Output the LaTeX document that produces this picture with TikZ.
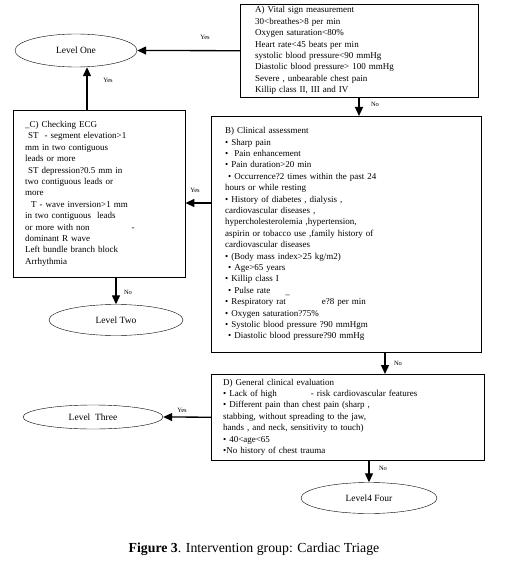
\documentclass[tikz,border=0pt]{standalone}
\usepackage{fontspec}
\setmainfont{Liberation Serif}
\usetikzlibrary{arrows.meta,shapes.geometric}
\tikzset{
  box/.style={draw, rectangle, anchor=north west, align=left, inner ysep=2pt,
    font=\fontsize{9}{11.4}\selectfont},
  level/.style={draw, ellipse, inner sep=0pt, font=\fontsize{9.5}{11}\selectfont},
  arr/.style={-{Triangle[length=9pt,width=8pt]}, line width=1.3pt},
  tag/.style={font=\fontsize{6.5}{7}\selectfont}
}
\newcommand{\bul}{\textbullet{} }
\begin{document}
\begin{tikzpicture}[x=1pt,y=-1pt]
\useasboundingbox (0,0) rectangle (524,569);

% the four assessment steps
\node[box, inner xsep=15pt, text width=208pt, minimum width=238pt, minimum height=93pt] (A) at (240,4)
{A) Vital sign measurement\\
30<breathes>8 per min\\
Oxygen saturation<80\%\\
Heart rate<45 beats per min\\
systolic blood pressure<90 mmHg\\
Diastolic blood pressure> 100 mmHg\\
Severe , unbearable chest pain\\
Killip class II, III and IV};

\node[box, inner xsep=14pt, text width=242pt, minimum width=270pt, minimum height=236pt] (B) at (211,116)
{B) Clinical assessment\\
\bul Sharp pain\\
\bul\ Pain enhancement\\
\bul Pain duration>20 min\\
\ \bul Occurrence?2 times within the past 24\\
hours or while resting\\
\bul History of diabetes , dialysis ,\\
cardiovascular diseases ,\\
hypercholesterolemia ,hypertension,\\
aspirin or tobacco use ,family history of\\
cardiovascular diseases\\
\bul (Body mass index>25 kg/m2)\\
\ \bul Age>65 years\\
\bul Killip class I\\
\ \bul Pulse rate \hspace{12pt}\raisebox{-1.5pt}{\_}\\
\bul Respiratory rat \hspace{30pt} e?8 per min\\
\bul Oxygen saturation?75\%\\
\bul Systolic blood pressure ?90 mmHgm\\
\ \bul Diastolic blood pressure?90 mmHg};

\node[box, inner xsep=12pt, text width=148pt, minimum width=172pt, minimum height=167pt] (C) at (13,110)
{\_C) Checking ECG\\
\ ST \ - segment elevation>1\\
mm in two contiguous\\
leads or more\\
\ ST depression?0.5 mm in\\
two contiguous leads or\\
more\\
\ \ T - wave inversion>1 mm\\
in two contiguous \ leads\\
or more with non \hspace{36pt} -\\
dominant R wave\\
Left bundle branch block\\
Arrhythmia};

\node[box, inner xsep=12pt, text width=249pt, minimum width=273pt, minimum height=86pt] (D) at (211,374)
{D) General clinical evaluation\\
\bul Lack of high \hspace{28pt} - risk cardiovascular features\\
\bul Different pain than chest pain (sharp ,\\
stabbing, without spreading to the jaw,\\
hands , and neck, sensitivity to touch)\\
\bul 40<age<65\\
\textbullet No history of chest trauma};

% the triage levels
\node[level, minimum width=122pt, minimum height=33pt] (one) at (76,50.5) {Level One};
\node[level, minimum width=134pt, minimum height=31pt] (two) at (116,320) {Level Two};
\node[level, minimum width=140pt, minimum height=24pt] (three) at (93,417) {Level \ Three};
\node[level, minimum width=136pt, minimum height=31pt] (four) at (369,498) {Level4 Four};

% where the arrows run
\coordinate (ab) at (359,0);
\coordinate (bd) at (385,0);
\coordinate (bc) at (0,203);
\coordinate (cu) at (87,0);

\draw[arr] (A.west) -- (one.east);
\draw[arr] (A.south -| ab) -- (B.north -| ab);
\draw[arr] (B.west |- bc) -- (C.east |- bc);
\draw[arr] (C.north -| cu) -- (one.south -| cu);
\draw[arr] (C.south -| two.north) -- (two.north);
\draw[arr] (B.south -| bd) -- (D.north -| bd);
\draw[arr] (D.west) -- (three.east);
\draw[arr] (D.south -| four.north) -- (four.north);

\node[tag] (y1) at (205,37) {Yes};
\node[tag] (y2) at (108,80) {Yes};
\node[tag] (n1) at (375,104) {No};
\node[tag] (y3) at (195,190) {Yes};
\node[tag] (n2) at (128,292) {No};
\node[tag] (n3) at (398,363) {No};
\node[tag] (y4) at (182,410) {Yes};
\node[tag] (n4) at (383,468) {No};

\node[font=\fontsize{13.8}{16}\selectfont] (cap) at (254,549) {\textbf{Figure 3}. Intervention group: Cardiac Triage};
\end{tikzpicture}
\end{document}
